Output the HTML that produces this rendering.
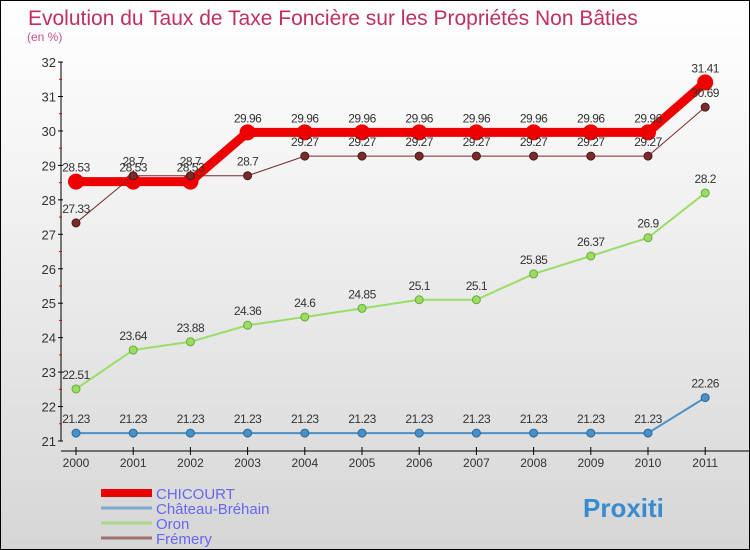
<!DOCTYPE html>
<html><head><meta charset="utf-8"><style>
body{margin:0}
#c{position:relative;width:748px;height:548px;border:1px solid #000;background:linear-gradient(#fff 0%,#f4f4f4 30%,#d6d6d6 100%);font-family:"Liberation Sans",sans-serif;overflow:hidden}
</style></head><body>
<div id="c">
<svg id="s" width="748" height="548"></svg>
</div>
<script>
const years=["2000","2001","2002","2003","2004","2005","2006","2007","2008","2009","2010","2011"];
const chicourt=[28.53,28.53,28.53,29.96,29.96,29.96,29.96,29.96,29.96,29.96,29.96,31.41];
const chateau=[21.23,21.23,21.23,21.23,21.23,21.23,21.23,21.23,21.23,21.23,21.23,22.26];
const oron=[22.51,23.64,23.88,24.36,24.6,24.85,25.1,25.1,25.85,26.37,26.9,28.2];
const fremery=[27.33,28.7,28.7,28.7,29.27,29.27,29.27,29.27,29.27,29.27,29.27,30.69];
const yTicks=[21,22,23,24,25,26,27,28,29,30,31,32];
const NS="http://www.w3.org/2000/svg";
const svg=document.getElementById('s');
function X(i){return 75+i*57.2;}
function Y(v){return 440-(v-21)*34.45;}
function mk(t,a,p){const e=document.createElementNS(NS,t);for(const k in a)e.setAttribute(k,a[k]);(p||svg).appendChild(e);return e;}
let t=mk('text',{x:27,y:24,'font-size':21,fill:'#c0305e'});t.textContent='Evolution du Taux de Taxe Foncière sur les Propriétés Non Bâties';


t=mk('text',{x:26,y:40,'font-size':12,fill:'#c0508e'});t.textContent='(en %)';


// axes
let a=mk('line',{x1:60,y1:61,x2:60,y2:440,stroke:'#000'});


a=mk('line',{x1:60,y1:450,x2:750,y2:450,stroke:'#000'});


yTicks.forEach(v=>{
 mk('line',{x1:57,y1:Y(v),x2:62,y2:Y(v),stroke:'#000'});
 if(v<32)mk('line',{x1:58,y1:Y(v+0.5),x2:61,y2:Y(v+0.5),stroke:'#e00'});
 const l=mk('text',{x:55,y:Y(v)+5,'font-size':13,fill:'#333','text-anchor':'end'});l.textContent=v;
 
 
});
years.forEach((y,i)=>{
 mk('line',{x1:X(i),y1:446,x2:X(i),y2:454,stroke:'#000'});
 const l=mk('text',{x:X(i),y:466,'font-size':12,fill:'#333','text-anchor':'middle'});l.textContent=y;
 
 
});
function series(vals,color,w,r,name,dark){
 const g=mk('g',{});
 
 
 const pts=vals.map((v,i)=>X(i)+','+Y(v)).join(' ');
 mk('polyline',{points:pts,fill:'none',stroke:color,'stroke-width':w,'stroke-linejoin':'round'},g);
 vals.forEach((v,i)=>{
  const c=mk('circle',{cx:X(i),cy:Y(v),r:r,fill:color,stroke:dark||'none','stroke-width':1},g);
  
  
  const l=mk('text',{x:X(i),y:Y(v)-10,'font-size':12,fill:'#333','text-anchor':'middle','letter-spacing':'-0.5'},g);l.textContent=v;
  
  
 });
}
series(chateau,'#4a90c8',2,4,'chateau-brehain','#2a6a9a');
series(oron,'#99dd66',2,4,'oron','#66aa33');
series(chicourt,'#ee0000',9,8,'chicourt');
series(fremery,'#7a2a2a',1,4,'fremery','#4a1a1a');
// legend
const leg=[['CHICOURT','#ee0000',8],['Château-Bréhain','#7aaad0',3],['Oron','#a8d888',3],['Frémery','#a07070',3]];
leg.forEach((d,i)=>{
 const y=492+i*15;
 const g=mk('g',{});
 
 
 mk('line',{x1:100,y1:y,x2:151,y2:y,stroke:d[1],'stroke-width':d[2]},g);
 const l=mk('text',{x:155,y:y+6,'font-size':15,fill:'#6666ee'},g);l.textContent=d[0];
});
t=mk('text',{x:582,y:516,'font-size':26,'font-weight':'bold',fill:'#3a8ad0'});t.textContent='Proxiti';


</script>
</body></html>
